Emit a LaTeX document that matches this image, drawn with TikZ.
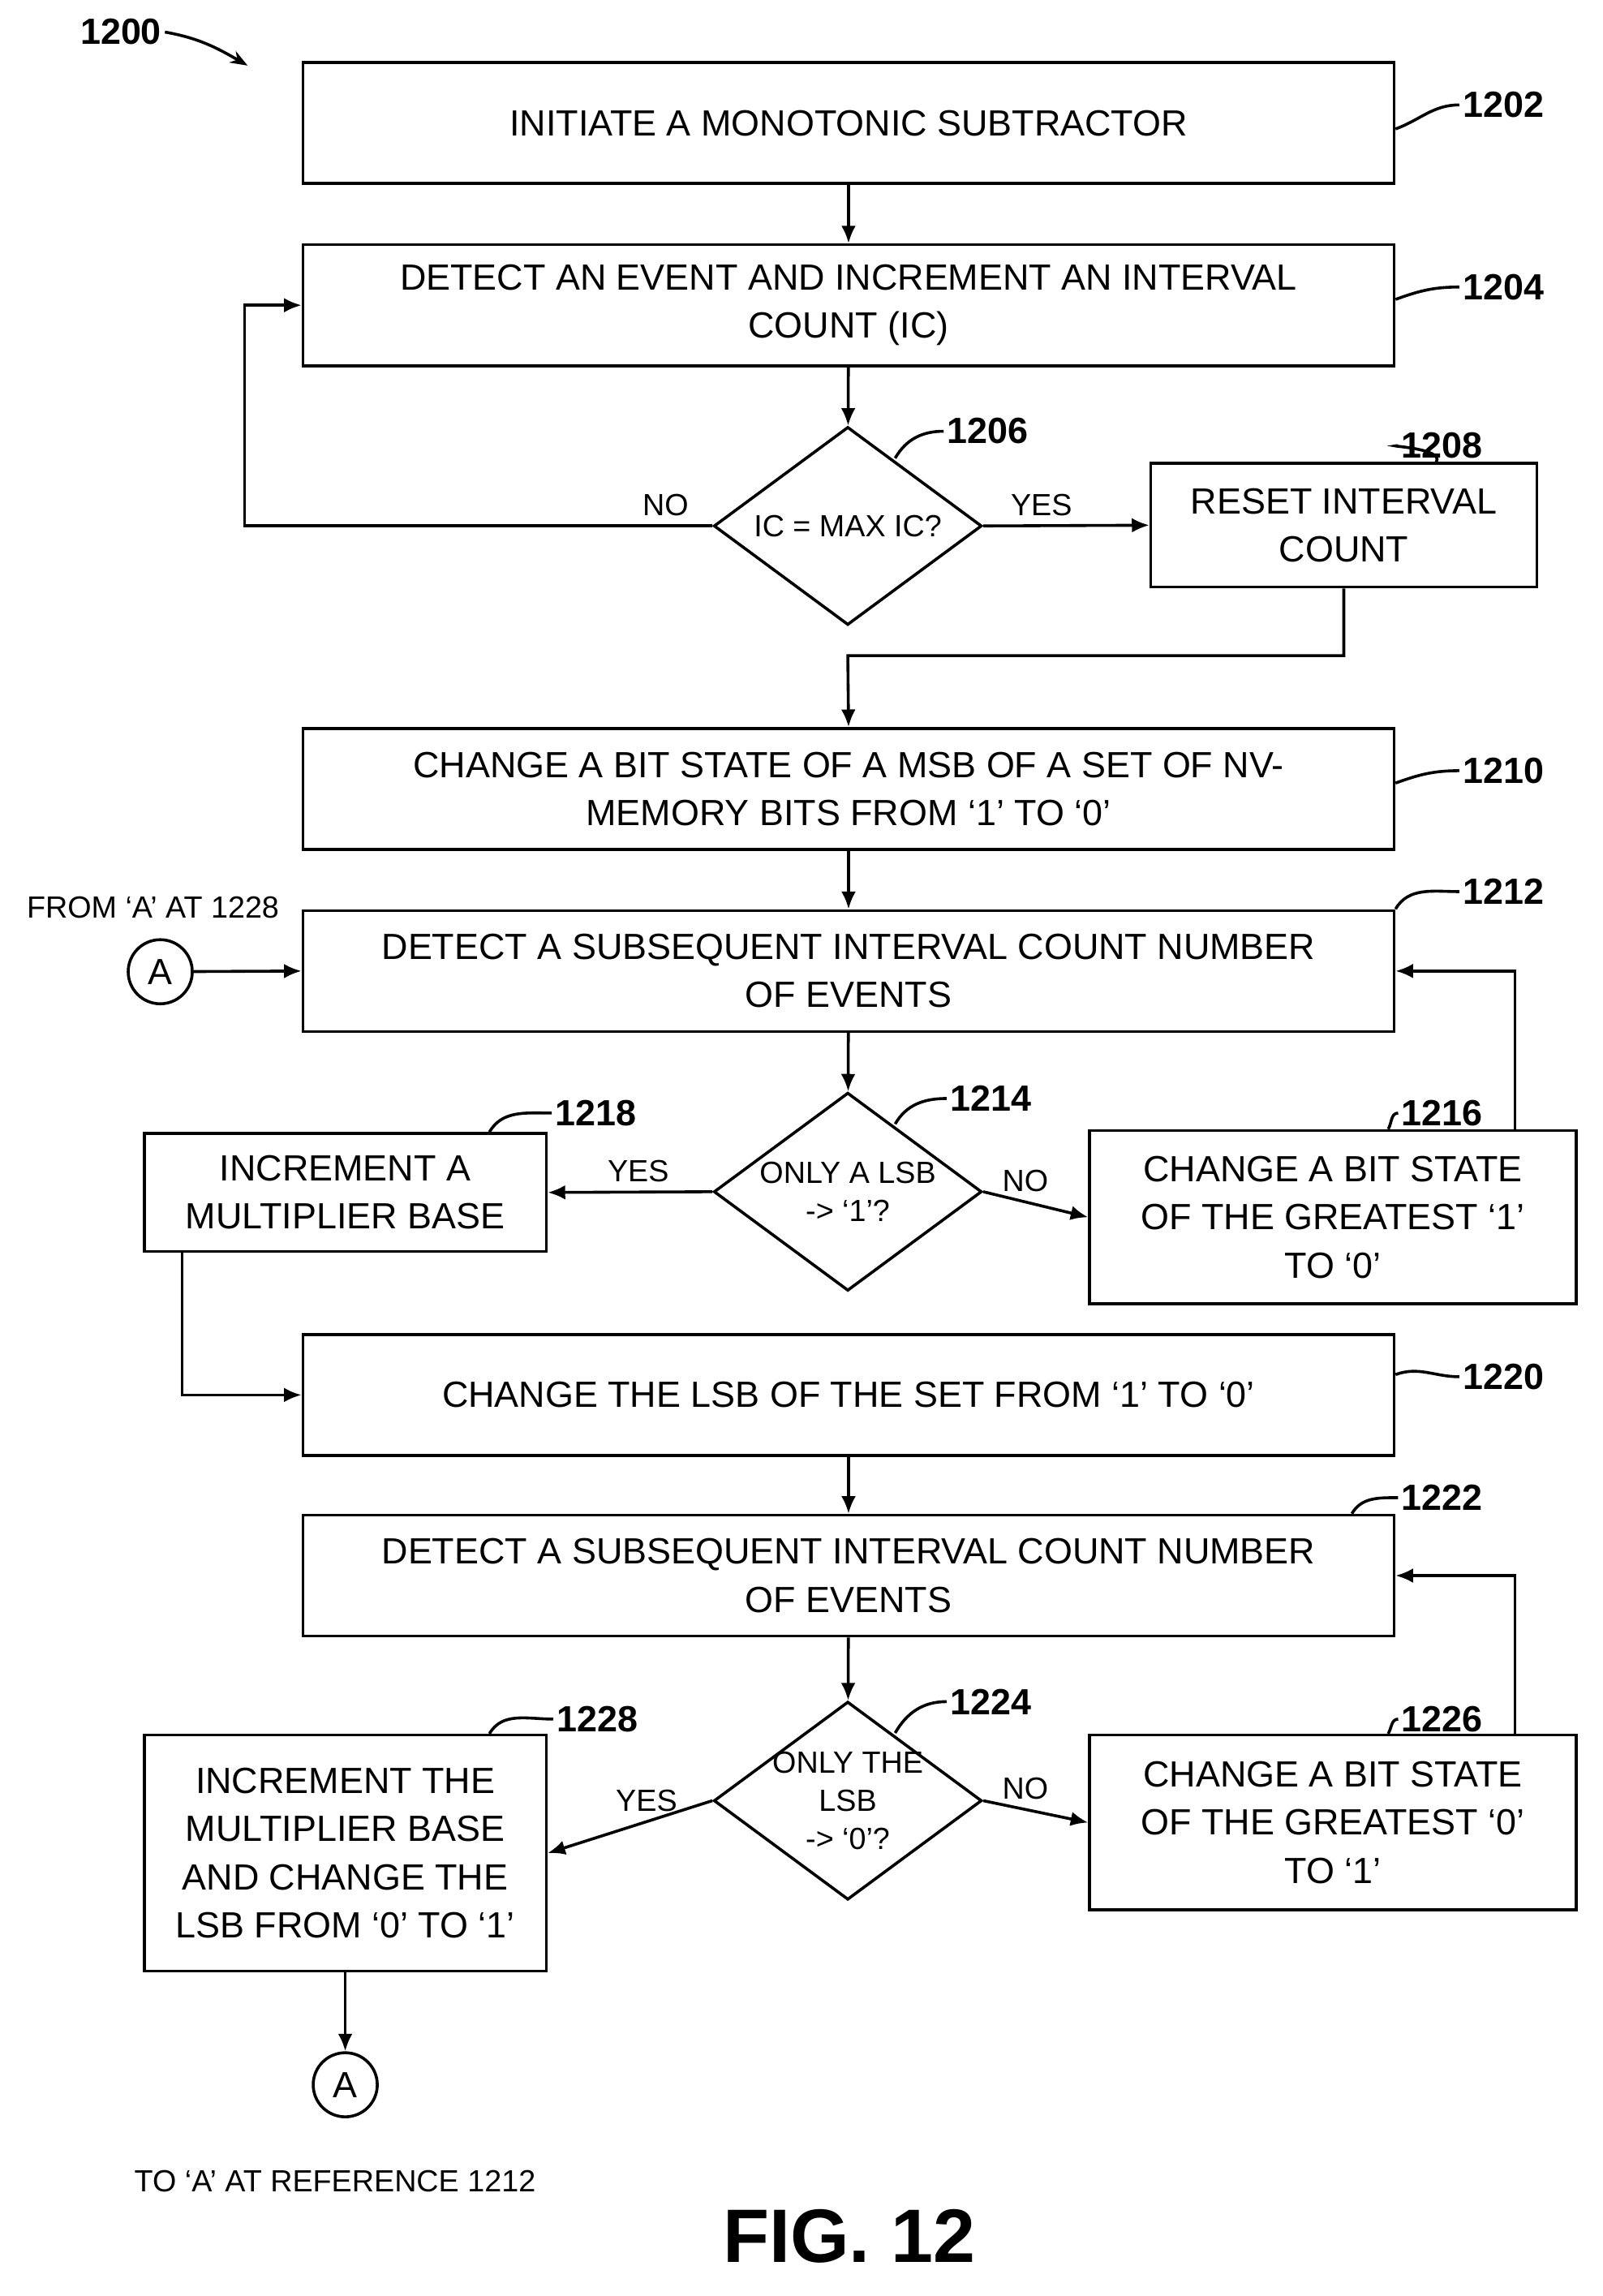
\documentclass[tikz,border=0pt]{standalone}
\usepackage{fontspec}
\setmainfont{Liberation Sans}
\usetikzlibrary{calc,shapes.geometric,arrows.meta}
\newcommand{\boxfont}{\fontsize{12.5}{16.5}\selectfont}
\newcommand{\refnum}{\fontsize{12.5}{14}\selectfont\bfseries}
\begin{document}
\begin{tikzpicture}[x=0.5pt,y=-0.5pt,
    STEP/.style={draw=black, line width=1pt, rectangle, align=center, font=\boxfont, inner sep=2pt},
    DEC/.style={draw=black, line width=1pt, diamond, minimum width=92pt, minimum height=68pt, inner sep=0pt},
    DTXT/.style={align=center, font=\fontsize{10.5}{13}\selectfont, inner sep=0pt},
    REF/.style={font=\refnum, inner sep=1pt},
    TAG/.style={font=\fontsize{10.5}{12}\selectfont, inner sep=1pt},
    CON/.style={draw=black, line width=1pt, circle, minimum size=22pt, inner sep=0pt, font=\boxfont},
    LNK/.style={line width=1pt, -{Latex[length=6pt,width=5pt]}},
    LEAD/.style={line width=1pt}
    ]
    \useasboundingbox (0,0) rectangle (1100,1576);
    % steps
    \node[STEP, minimum width=374.5pt, minimum height=41.5pt] (s1202) at (582.5,84.5) {INITIATE A MONOTONIC SUBTRACTOR};
    \node[STEP, minimum width=374.5pt, minimum height=41.5pt] (s1204) at (582.5,209.5) {DETECT AN EVENT AND INCREMENT AN INTERVAL\\COUNT (IC)};
    \node[DEC] (d1206) at (582,361) {};
    \node[DTXT] at (d1206) {IC = MAX IC?};
    \node[STEP, minimum width=132.5pt, minimum height=42.5pt] (s1208) at (922.5,360.5) {RESET INTERVAL\\COUNT};
    \node[STEP, minimum width=374.5pt, minimum height=41.5pt] (s1210) at (582.5,541.5) {CHANGE A BIT STATE OF A MSB OF A SET OF NV-\\MEMORY BITS FROM ‘1’ TO ‘0’};
    \node[STEP, minimum width=374.5pt, minimum height=41.5pt] (s1212) at (582.5,666.5) {DETECT A SUBSEQUENT INTERVAL COUNT NUMBER\\OF EVENTS};
    \node[CON] (a1) at (110,667) {A};
    \node[TAG, anchor=center] at (105,623) {FROM ‘A’ AT 1228};
    \node[DEC] (d1214) at (582,818) {};
    \node[DTXT] at (d1214) {ONLY A LSB\\-> ‘1’?};
    \node[STEP, minimum width=138pt, minimum height=40.5pt] (s1218) at (237,818.5) {INCREMENT A\\MULTIPLIER BASE};
    \node[STEP, minimum width=167pt, minimum height=59.5pt] (s1216) at (915,835.5) {CHANGE A BIT STATE\\OF THE GREATEST ‘1’\\TO ‘0’};
    \node[STEP, minimum width=374.5pt, minimum height=41.5pt] (s1220) at (582.5,957.5) {CHANGE THE LSB OF THE SET FROM ‘1’ TO ‘0’};
    \node[STEP, minimum width=374.5pt, minimum height=41.5pt] (s1222) at (582.5,1081.5) {DETECT A SUBSEQUENT INTERVAL COUNT NUMBER\\OF EVENTS};
    \node[DEC] (d1224) at (582,1236) {};
    \node[DTXT] at (d1224) {ONLY THE\\LSB\\-> ‘0’?};
    \node[STEP, minimum width=138pt, minimum height=81pt] (s1228) at (237,1272) {INCREMENT THE\\MULTIPLIER BASE\\AND CHANGE THE\\LSB FROM ‘0’ TO ‘1’};
    \node[STEP, minimum width=167pt, minimum height=60pt] (s1226) at (915,1251) {CHANGE A BIT STATE\\OF THE GREATEST ‘0’\\TO ‘1’};
    \node[CON] (a2) at (237,1431) {A};
    \node[TAG] at (230,1497) {TO ‘A’ AT REFERENCE 1212};
    \node[font=\fontsize{26}{30}\selectfont\bfseries] (fig) at (583,1535) {FIG. 12};
    % reference numbers
    \node[REF] (n1200) at (83,22) {1200};
    \draw[LEAD,-{Stealth[length=6pt]}] (n1200.east) to[out=-10,in=150] (170,45);
    \node[REF] (n1202) at (1032,72) {1202};
    \node[REF] (n1204) at (1032,197) {1204};
    \node[REF] (n1206) at (678,296) {1206};
    \node[REF] (n1208) at (990,306) {1208};
    \node[REF] (n1210) at (1032,529) {1210};
    \node[REF] (n1212) at (1032,612) {1212};
    \node[REF] (n1214) at (680,754) {1214};
    \node[REF] (n1218) at (409,764) {1218};
    \node[REF] (n1216) at (990,764) {1216};
    \node[REF] (n1220) at (1032,945) {1220};
    \node[REF] (n1222) at (990,1028) {1222};
    \node[REF] (n1224) at (680,1168) {1224};
    \node[REF] (n1228) at (410,1180) {1228};
    \node[REF] (n1226) at (990,1180) {1226};
    \draw[LEAD] ($(s1202.east)+(0,4)$) to[out=20,in=180] (n1202.west);
    \draw[LEAD] ($(s1204.east)+(0,-4)$) to[out=20,in=180] (n1204.west);
    \draw[LEAD] ($(s1210.east)+(0,-4)$) to[out=20,in=180] (n1210.west);
    \draw[LEAD] (s1212.north east) to[out=60,in=180] (n1212.west);
    \draw[LEAD] ($(s1220.east)+(0,-14)$) to[out=20,in=180] (n1220.west);
    \draw[LEAD] ($(s1222.north east)+(-30,0)$) to[out=60,in=180] (n1222.west);
    \draw[LEAD] (d1206.north east) ++(-14,-12) to[out=60,in=180] (n1206.west);
    \draw[LEAD] (d1214.north east) ++(-14,-12) to[out=60,in=180] (n1214.west);
    \draw[LEAD] (d1224.north east) ++(-14,-12) to[out=60,in=180] (n1224.west);
    \draw[LEAD] ($(s1208.north east)+(-70,0)$) to[out=60,in=180] (n1208.west);
    \draw[LEAD] ($(s1216.north east)+(-130,0)$) to[out=60,in=180] (n1216.west);
    \draw[LEAD] ($(s1226.north east)+(-130,0)$) to[out=60,in=180] (n1226.west);
    \draw[LEAD] ($(s1218.north east)+(-40,0)$) to[out=60,in=180] (n1218.west);
    \draw[LEAD] ($(s1228.north east)+(-40,0)$) to[out=60,in=180] (n1228.west);
    % connectors
    \draw[LNK] (s1202) -- (s1204);
    \draw[LNK] (s1204) -- (d1206);
    \draw[LNK] (d1206.east) -- node[TAG, above, pos=0.35, yshift=2pt]{YES} (s1208.west);
    \draw[LNK] (d1206.west) -- node[TAG, above, pos=0.1, yshift=2pt]{NO} (168,361) |- (s1204.west);
    \draw[LNK] (s1208.south) |- (582,450) -- (s1210.north);
    \draw[LNK] (s1210) -- (s1212);
    \draw[LNK] (a1) -- (s1212.west);
    \draw[LNK] (s1212) -- (d1214);
    \draw[LNK] (d1214.west) -- node[TAG, above, pos=0.45, yshift=2pt]{YES} (s1218.east);
    \draw[LNK] (d1214.east) -- node[TAG, above, pos=0.4, yshift=2pt]{NO} (s1216.west);
    \draw[LNK] (s1216.north -| 1040,0) |- (s1212.east);
    \draw[LNK] (s1218.south -| 125,0) |- (s1220.west);
    \draw[LNK] (s1220) -- (s1222);
    \draw[LNK] (s1222) -- (d1224);
    \draw[LNK] (d1224.west) -- node[TAG, above, pos=0.4, yshift=2pt]{YES} (s1228.east);
    \draw[LNK] (d1224.east) -- node[TAG, above, pos=0.4, yshift=2pt]{NO} (s1226.west);
    \draw[LNK] (s1226.north -| 1040,0) |- (s1222.east);
    \draw[LNK] (s1228) -- (a2);
\end{tikzpicture}
\end{document}
